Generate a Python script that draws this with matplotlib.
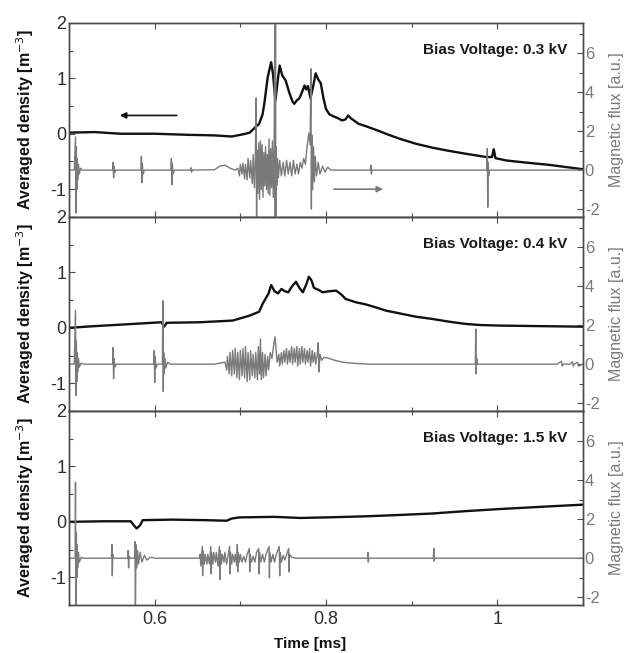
import matplotlib
matplotlib.use('Agg')
import matplotlib.pyplot as plt
from matplotlib.ticker import MultipleLocator, FuncFormatter

plt.rcParams['font.family'] = ['Liberation Sans', 'DejaVu Sans']
plt.rcParams['axes.unicode_minus'] = False

labels = ['Bias Voltage: 0.3 kV', 'Bias Voltage: 0.4 kV', 'Bias Voltage: 1.5 kV']

# averaged density (left axis), (time ms, value)
dens1 = [(0.500, 0.02), (0.530, 0.03), (0.560, 0.0), (0.600, 0.0), (0.640, -0.02), (0.670, -0.03),
         (0.690, -0.05), (0.700, -0.02), (0.706, 0.0), (0.711, 0.02), (0.717, 0.11), (0.722, 0.18),
         (0.726, 0.35), (0.728, 0.54), (0.732, 1.02), (0.736, 1.29), (0.738, 1.10), (0.741, 0.60),
         (0.744, 1.00), (0.746, 1.23), (0.749, 1.05), (0.753, 0.96), (0.757, 0.75), (0.761, 0.58),
         (0.763, 0.54), (0.766, 0.60), (0.769, 0.64), (0.772, 0.75), (0.775, 0.87), (0.777, 0.80),
         (0.779, 0.86), (0.782, 0.64), (0.785, 0.85), (0.788, 1.09), (0.791, 0.98), (0.794, 0.91),
         (0.797, 0.65), (0.800, 0.45), (0.804, 0.35), (0.808, 0.32), (0.814, 0.28), (0.819, 0.24),
         (0.823, 0.26), (0.826, 0.33), (0.829, 0.28), (0.838, 0.18), (0.846, 0.14), (0.853, 0.10),
         (0.862, 0.05), (0.870, 0.0), (0.886, -0.09), (0.905, -0.18), (0.924, -0.25), (0.944, -0.31),
         (0.963, -0.36), (0.987, -0.42), (0.994, -0.42), (0.996, -0.28), (0.998, -0.44), (1.010, -0.48),
         (1.021, -0.50), (1.040, -0.53), (1.060, -0.56), (1.080, -0.60), (1.100, -0.64)]
dens2 = [(0.500, 0.0), (0.530, 0.03), (0.575, 0.07), (0.608, 0.10), (0.611, 0.02), (0.614, 0.09),
         (0.653, 0.10), (0.691, 0.13), (0.711, 0.22), (0.722, 0.29), (0.726, 0.43), (0.733, 0.62),
         (0.736, 0.77), (0.740, 0.66), (0.744, 0.62), (0.748, 0.70), (0.752, 0.66), (0.756, 0.64),
         (0.760, 0.74), (0.765, 0.83), (0.769, 0.72), (0.773, 0.64), (0.777, 0.78), (0.780, 0.92),
         (0.783, 0.86), (0.786, 0.72), (0.792, 0.68), (0.796, 0.64), (0.804, 0.66), (0.812, 0.67),
         (0.818, 0.60), (0.823, 0.52), (0.835, 0.46), (0.847, 0.42), (0.860, 0.36), (0.870, 0.31),
         (0.886, 0.26), (0.905, 0.20), (0.924, 0.16), (0.944, 0.11), (0.963, 0.07), (0.980, 0.05),
         (1.002, 0.04), (1.050, 0.03), (1.100, 0.02)]
dens3 = [(0.500, 0.0), (0.540, 0.01), (0.572, 0.01), (0.575, -0.05), (0.579, -0.12), (0.583, -0.06),
         (0.586, 0.03), (0.620, 0.04), (0.660, 0.03), (0.684, 0.02), (0.690, 0.06), (0.699, 0.08),
         (0.740, 0.09), (0.770, 0.07), (0.800, 0.08), (0.847, 0.10), (0.880, 0.12), (0.924, 0.15),
         (0.960, 0.19), (1.002, 0.23), (1.050, 0.27), (1.100, 0.31)]

# magnetic flux (right axis), (time ms, value)
flux1 = [(0.500, 0.0), (0.506, 0.0), (0.5075, 1.7), (0.508, -2.2), (0.5085, 1.2), (0.509, -1.0),
         (0.5095, 0.6), (0.510, -0.5), (0.511, 0.3), (0.512, -0.2), (0.5135, 0.1), (0.515, 0.0),
         (0.551, 0.0), (0.5515, 0.4), (0.552, -0.4), (0.5525, 0.2), (0.5535, -0.1), (0.555, 0.0),
         (0.584, 0.0), (0.5845, 0.7), (0.585, -0.65), (0.5855, 0.35), (0.5865, -0.2), (0.588, 0.0),
         (0.619, 0.0), (0.6195, 0.6), (0.620, -0.75), (0.6205, 0.35), (0.6215, -0.2), (0.623, 0.0),
         (0.642, 0.0), (0.6425, 0.12), (0.643, -0.1), (0.644, 0.0), (0.670, 0.02), (0.676, 0.2),
         (0.682, 0.25), (0.688, 0.1), (0.694, 0.0), (0.697, 0.1), (0.699, -0.3), (0.700, 0.3),
         (0.702, -0.2), (0.703, 0.35), (0.705, -0.45), (0.706, 0.3), (0.708, -0.5), (0.709, 0.6),
         (0.711, -0.4), (0.712, 0.5), (0.714, -0.7), (0.715, 0.8), (0.7165, -0.9), (0.7175, 0.6),
         (0.7185, 3.7), (0.719, -2.6), (0.7195, 1.0), (0.7205, -1.2), (0.7215, 1.4), (0.7225, -1.5),
         (0.7235, 1.5), (0.7245, -1.0), (0.7255, 1.3), (0.7265, -1.4), (0.7275, 0.9), (0.7285, -0.8),
         (0.7295, 1.2), (0.7305, -1.0), (0.7315, 0.8), (0.7325, -1.2), (0.7335, 1.6), (0.7345, -1.3),
         (0.7355, 1.1), (0.7365, -0.9), (0.7375, 1.5), (0.7385, -1.4), (0.7395, 1.0), (0.7405, 9.0),
         (0.7408, -4.0), (0.7411, 9.0), (0.7414, -4.0), (0.7418, 1.2), (0.7425, -0.8), (0.7435, 0.6),
         (0.7445, -0.4), (0.746, 0.5), (0.748, -0.3), (0.750, 0.4), (0.752, -0.3), (0.754, 0.5),
         (0.756, -0.2), (0.758, 0.4), (0.760, -0.3), (0.762, 0.5), (0.764, -0.2), (0.766, 0.3),
         (0.768, -0.2), (0.770, 0.4), (0.772, 0.1), (0.774, 0.6), (0.776, 0.3), (0.778, 1.2),
         (0.780, 1.9), (0.7815, 1.3), (0.7825, 5.2), (0.783, -2.0), (0.7835, 1.8), (0.7845, -1.0),
         (0.7855, 1.2), (0.7865, -0.6), (0.7875, 0.7), (0.789, -0.3), (0.791, 0.4), (0.793, -0.2),
         (0.796, 0.2), (0.799, -0.1), (0.802, 0.15), (0.806, 0.0), (0.852, 0.0), (0.8525, 0.25),
         (0.853, -0.2), (0.854, 0.0), (0.988, 0.0), (0.9885, 1.1), (0.989, -1.9), (0.9895, 0.4),
         (0.990, -0.3), (0.991, 0.0), (1.100, 0.0)]
flux2 = [(0.500, 0.0), (0.506, 0.0), (0.5075, 2.75), (0.508, -1.6), (0.5085, 1.2), (0.509, -0.9),
         (0.5095, 0.6), (0.510, -0.4), (0.511, 0.3), (0.512, -0.15), (0.514, 0.05), (0.516, 0.0),
         (0.551, 0.0), (0.5515, 0.85), (0.552, -0.75), (0.5525, 0.3), (0.5535, -0.15), (0.555, 0.0),
         (0.599, 0.0), (0.5995, 0.7), (0.600, -0.95), (0.6005, 0.4), (0.6015, -0.2), (0.603, 0.0),
         (0.609, 0.0), (0.6095, 3.25), (0.610, -1.4), (0.6105, 0.6), (0.611, -0.5), (0.612, 0.3),
         (0.613, -0.2), (0.615, 0.1), (0.618, 0.0), (0.670, 0.0), (0.676, 0.05), (0.682, 0.1),
         (0.684, -0.3), (0.685, 0.4), (0.687, -0.5), (0.688, 0.6), (0.690, -0.6), (0.691, 0.7),
         (0.693, -0.5), (0.694, 0.8), (0.696, -0.7), (0.697, 0.6), (0.699, -0.8), (0.700, 0.7),
         (0.702, -0.6), (0.703, 0.8), (0.705, -0.7), (0.706, 0.9), (0.708, -0.9), (0.709, 0.6),
         (0.711, -0.8), (0.712, 0.7), (0.714, -0.6), (0.715, 0.5), (0.717, -0.7), (0.718, 0.6),
         (0.720, -0.8), (0.721, 0.9), (0.7225, -0.5), (0.7235, 1.3), (0.7245, -0.8), (0.726, 0.6),
         (0.727, -0.7), (0.729, 0.5), (0.730, -0.6), (0.732, 0.4), (0.733, -0.3), (0.735, 0.6),
         (0.737, 0.3), (0.739, 1.0), (0.7405, 1.4), (0.742, 0.6), (0.743, 0.1), (0.745, 0.5),
         (0.746, -0.1), (0.748, 0.6), (0.749, 0.0), (0.751, 0.7), (0.752, 0.1), (0.754, 0.8),
         (0.755, 0.0), (0.757, 0.7), (0.758, 0.1), (0.760, 0.9), (0.761, 0.0), (0.763, 0.8),
         (0.764, 0.1), (0.766, 0.9), (0.767, -0.1), (0.769, 0.8), (0.770, 0.0), (0.772, 0.9),
         (0.773, 0.1), (0.775, 0.8), (0.776, 0.0), (0.778, 0.7), (0.779, 0.1), (0.781, 0.8),
         (0.782, -0.1), (0.784, 0.7), (0.785, 0.1), (0.787, 0.6), (0.788, 0.0), (0.790, 0.5),
         (0.791, 1.1), (0.792, -0.4), (0.793, 0.5), (0.795, 0.2), (0.798, 0.35), (0.803, 0.3),
         (0.810, 0.2), (0.820, 0.1), (0.830, 0.05), (0.850, 0.0), (0.9745, 0.0), (0.975, 1.8),
         (0.9755, -0.5), (0.976, 0.3), (0.977, 0.0), (1.070, 0.0), (1.075, 0.15), (1.076, -0.1),
         (1.077, 0.0), (1.085, 0.0), (1.088, 0.12), (1.089, -0.1), (1.090, 0.0), (1.094, 0.1),
         (1.095, -0.1), (1.100, 0.0)]
flux3 = [(0.500, 0.0), (0.507, 0.0), (0.5075, 3.9), (0.508, -3.5), (0.5085, 1.3), (0.509, -1.0),
         (0.5095, 0.7), (0.510, -0.5), (0.511, 0.3), (0.512, -0.2), (0.514, 0.05), (0.516, 0.0),
         (0.5495, 0.0), (0.550, 0.7), (0.5505, -0.9), (0.551, 0.2), (0.552, 0.0), (0.5685, 0.0),
         (0.569, 0.4), (0.5695, -0.5), (0.570, 0.1), (0.571, 0.0), (0.5765, 0.0), (0.577, 0.85),
         (0.5775, -3.5), (0.578, 0.7), (0.579, -0.5), (0.580, 0.4), (0.581, -0.3), (0.583, 0.3),
         (0.585, -0.2), (0.588, 0.15), (0.591, -0.1), (0.595, 0.05), (0.600, 0.0), (0.652, 0.0),
         (0.653, 0.2), (0.654, -0.4), (0.6555, 0.6), (0.656, -0.9), (0.6565, 0.4), (0.658, -0.3),
         (0.659, 0.2), (0.661, -0.3), (0.662, 0.2), (0.664, -0.3), (0.6655, 0.6), (0.666, -0.8),
         (0.6665, 0.3), (0.668, -0.3), (0.669, 0.3), (0.671, -0.2), (0.672, 0.3), (0.674, -0.4),
         (0.6755, 0.6), (0.676, -1.1), (0.6765, 0.4), (0.678, -0.3), (0.679, 0.2), (0.681, -0.2),
         (0.682, 0.3), (0.684, -0.3), (0.6875, 0.6), (0.688, -0.8), (0.6885, 0.3), (0.690, -0.3),
         (0.691, 0.2), (0.693, -0.2), (0.694, 0.2), (0.696, -0.4), (0.6965, 0.7), (0.697, -0.7),
         (0.6975, 0.3), (0.699, -0.2), (0.700, 0.2), (0.702, -0.2), (0.704, 0.1), (0.706, -0.2),
         (0.708, 0.2), (0.7105, 0.5), (0.711, -0.7), (0.7115, 0.2), (0.713, -0.2), (0.715, 0.1),
         (0.717, -0.2), (0.719, 0.3), (0.7215, 0.5), (0.722, -0.8), (0.7225, 0.3), (0.724, -0.2),
         (0.726, 0.2), (0.728, -0.2), (0.730, 0.2), (0.7335, 0.6), (0.734, -1.0), (0.7345, 0.3),
         (0.736, -0.2), (0.738, 0.2), (0.740, -0.2), (0.742, 0.2), (0.7455, 0.6), (0.746, -0.9),
         (0.7465, 0.3), (0.748, -0.2), (0.750, 0.15), (0.752, -0.1), (0.7565, 0.5), (0.757, -0.7),
         (0.7575, 0.2), (0.760, 0.05), (0.765, 0.0), (0.8485, 0.0), (0.849, 0.3), (0.8495, -0.2),
         (0.850, 0.0), (0.9255, 0.0), (0.926, 0.5), (0.9265, -0.15), (0.927, 0.0), (1.100, 0.0)]

dens_list = [dens1, dens2, dens3]
flux_list = [flux1, flux2, flux3]

left_col = '#2e2e2e'
right_col = '#7a7a7a'
spine_col = '#4a4a4a'

fig = plt.figure(figsize=(6.28, 6.53), dpi=100)
axes = fig.subplots(3, 1, sharex=True)
fig.subplots_adjust(left=0.110, right=0.928, top=0.965, bottom=0.0735, hspace=0)

for i in range(3):
    ax = axes[i]
    ax2 = ax.twinx()
    t, d = zip(*dens_list[i])
    ax.plot(t, d, color='#111111', lw=1.7)
    t, f = zip(*flux_list[i])
    ax2.plot(t, f, color=right_col, lw=1.0)

    ax.set_xlim(0.5, 1.1)
    ax.set_ylim(-1.5, 2)
    ax2.set_ylim(-2.4, 7.55)

    ax.xaxis.set_major_locator(MultipleLocator(0.2))
    ax.xaxis.set_minor_locator(MultipleLocator(0.1))
    ax.xaxis.set_major_formatter(FuncFormatter(lambda v, p: '%g' % round(v, 3)))
    ax.yaxis.set_major_locator(MultipleLocator(1))
    ax.yaxis.set_minor_locator(MultipleLocator(0.5))
    ax2.yaxis.set_major_locator(MultipleLocator(2))
    ax2.yaxis.set_minor_locator(MultipleLocator(1))

    ax.tick_params(which='both', direction='in', top=True, right=False, colors=spine_col,
                   labelcolor=left_col, labelsize=13, pad=2)
    ax.tick_params(which='major', length=4.5, width=0.8)
    ax.tick_params(which='minor', length=3, width=0.8)
    ax.tick_params(axis='x', pad=4)
    ax2.tick_params(which='both', direction='in', colors=spine_col, labelcolor=right_col,
                    labelsize=12, pad=1.5)
    ax2.tick_params(which='major', length=4.5, width=0.8)
    ax2.tick_params(which='minor', length=3, width=0.8)

    for a in (ax, ax2):
        for s in a.spines.values():
            s.set_color(spine_col)
            s.set_linewidth(1.0)

    ax.set_ylabel('Averaged density [m$^{-3}$]', fontsize=11.5, fontweight='bold', color='#111111')
    ax.yaxis.set_label_coords(-0.064, 0.5)
    ax2.set_ylabel('Magnetic flux [a.u.]', fontsize=11.5, color=right_col)
    ax2.yaxis.set_label_coords(1.052, 0.5)

    ax.text(0.969, 0.86, labels[i], transform=ax.transAxes, ha='right', va='center',
            fontsize=11, fontweight='bold', color='#1a1a1a')

# direction arrows in the top panel
axes[0].annotate('', xy=(0.556, 0.33), xytext=(0.629, 0.33),
                 arrowprops=dict(arrowstyle='-|>', color='#111111', lw=1.2, mutation_scale=9))
axes[0].annotate('', xy=(0.870, -1.0), xytext=(0.806, -1.0),
                 arrowprops=dict(arrowstyle='-|>', color=right_col, lw=1.2, mutation_scale=9))

axes[2].set_xlabel('Time [ms]', fontsize=11, fontweight='bold', color='#111111')
axes[2].xaxis.set_label_coords(0.47, -0.165)

fig.savefig('out.png', dpi=100)
